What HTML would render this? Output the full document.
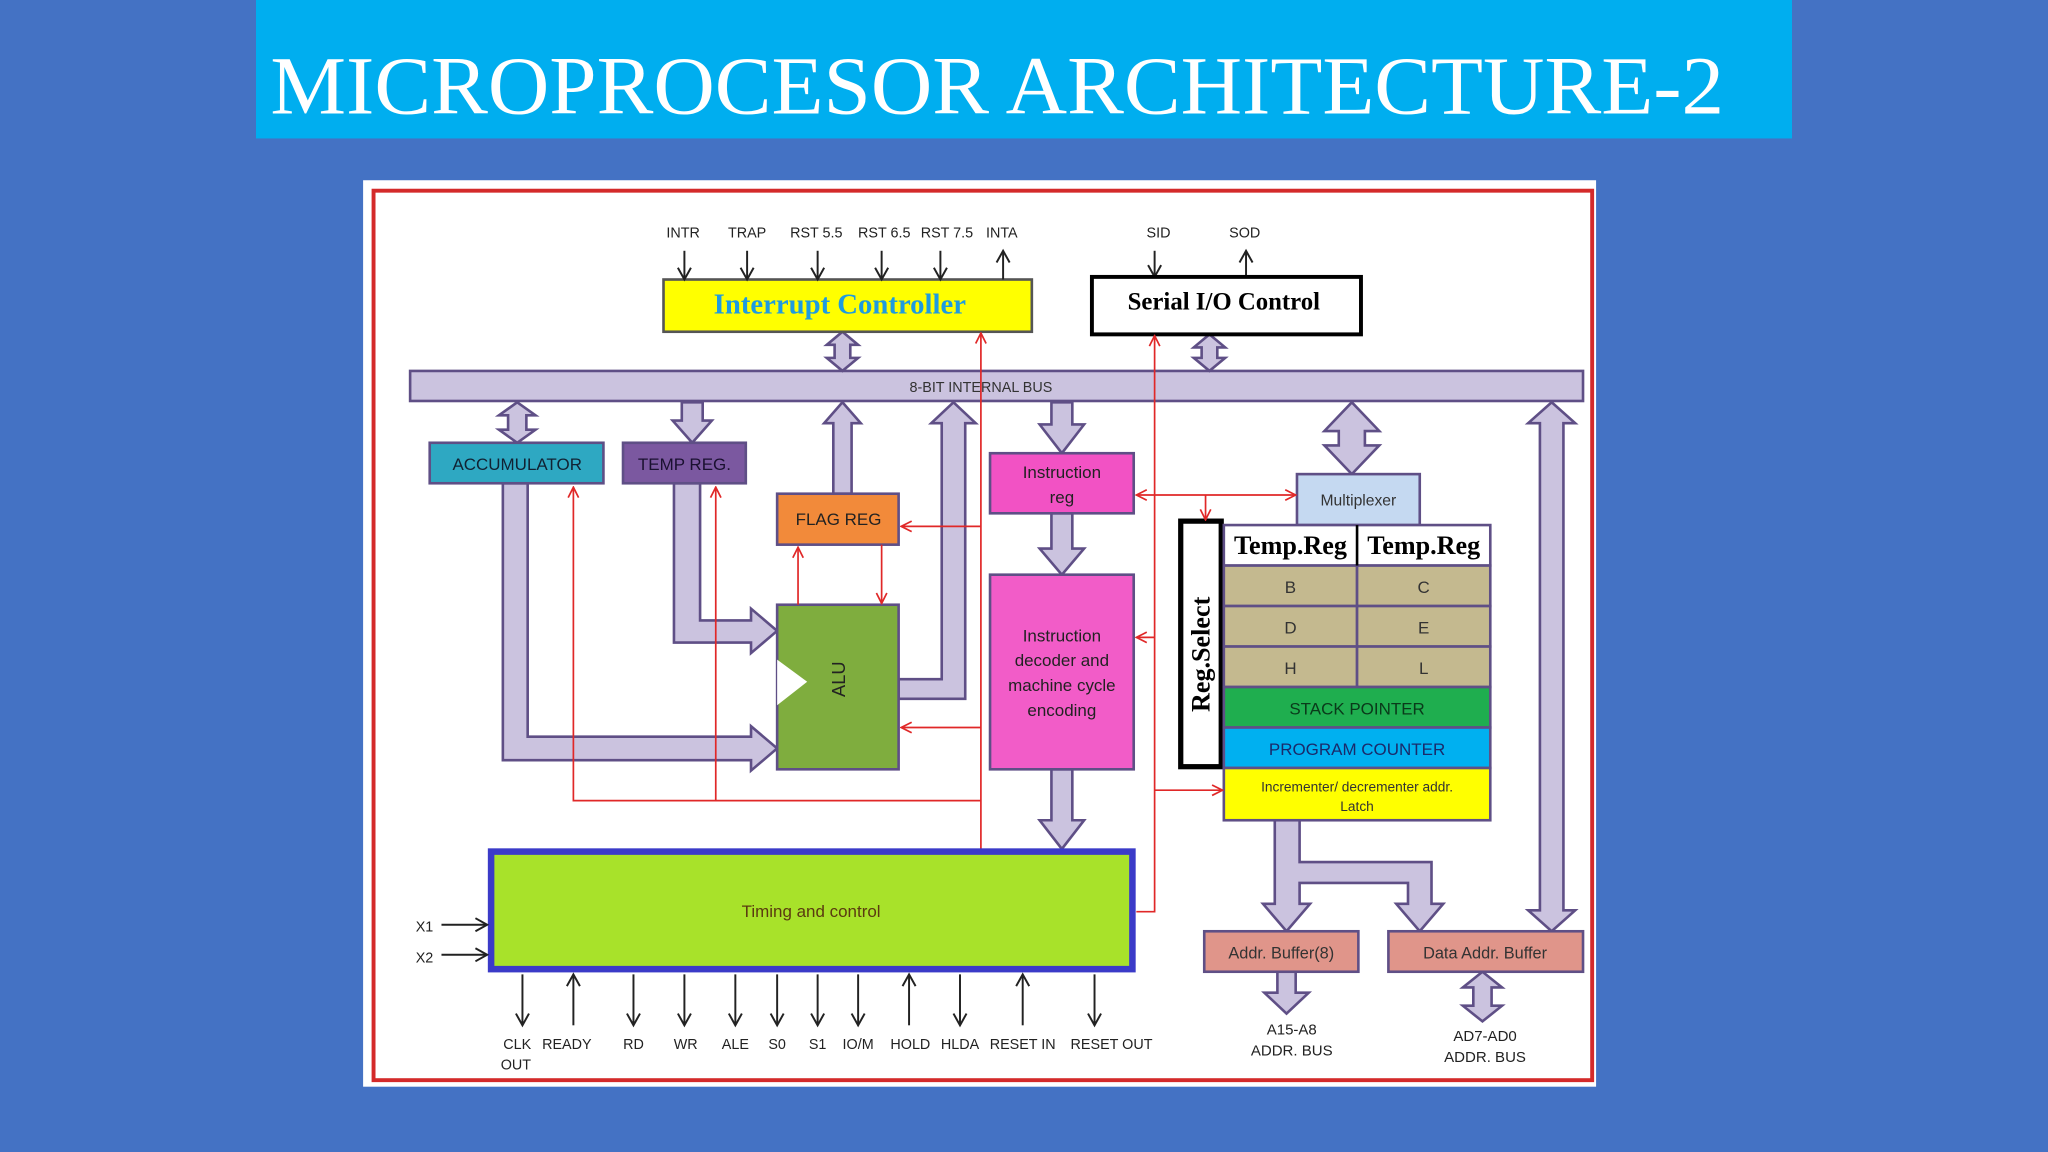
<!DOCTYPE html>
<html><head><meta charset="utf-8"><style>
html,body{margin:0;padding:0;background:#4472c4;}
svg{display:block;}
text{font-family:"Liberation Sans",sans-serif;}
</style></head><body>
<svg width="2048" height="1152" viewBox="0 0 1568 882" xmlns="http://www.w3.org/2000/svg">
<defs>
<marker id="ar" markerWidth="10" markerHeight="10" refX="9" refY="5" orient="auto" markerUnits="userSpaceOnUse"><path d="M1,1 L9,5 L1,9" fill="none" stroke="#e02828" stroke-width="1.3"/></marker>
<marker id="ab" markerWidth="12" markerHeight="12" refX="10" refY="6" orient="auto" markerUnits="userSpaceOnUse"><path d="M1,1 L10,6 L1,11" fill="none" stroke="#222" stroke-width="1.5"/></marker>
</defs>
<rect width="1568" height="882" fill="#4472c4"/>
<rect x="196" y="0" width="1176" height="106" fill="#00aeef"/>
<text x="207" y="87" font-size="63" fill="#fff" textLength="1113" lengthAdjust="spacingAndGlyphs" style="font-family:'Liberation Serif',serif">MICROPROCESOR ARCHITECTURE-2</text>

<rect x="278" y="138" width="944" height="694" fill="#fff"/>
<rect x="286" y="146" width="933" height="681" fill="none" stroke="#d42a2a" stroke-width="3"/>

<g fill="#cbc3df" stroke="#5f4f86" stroke-width="2" stroke-linejoin="miter">
<rect x="314" y="284" width="898" height="23"/>
<path d="M645,254 L657,264 L651,264 L651,274 L657,274 L645,284 L633,274 L639,274 L639,264 L633,264 Z"/>
<path d="M926,256 L938,266 L932,266 L932,274 L938,274 L926,284 L914,274 L920,274 L920,266 L914,266 Z"/>
<path d="M396,308 L410,318 L403,318 L403,329 L410,329 L396,339 L382,329 L389,329 L389,318 L382,318 Z"/>
<path d="M522,308 L538,308 L538,322 L545,322 L530,339 L515,322 L522,322 Z"/>
<path d="M638,378 L638,324 L631,324 L645,308 L659,324 L652,324 L652,378 Z"/>
<path d="M688,520 L721,520 L721,324 L713,324 L730,308 L747,324 L739,324 L739,535 L688,535 Z"/>
<path d="M805,308 L821,308 L821,325 L830,325 L813,347 L796,325 L805,325 Z"/>
<path d="M805,393 L821,393 L821,420 L830,420 L813,440 L796,420 L805,420 Z"/>
<path d="M805,589 L821,589 L821,628 L830,628 L813,650 L796,628 L805,628 Z"/>
<path d="M385,370 L404,370 L404,564 L575,564 L575,556 L595,573 L575,590 L575,582 L385,582 Z"/>
<path d="M516,370 L536,370 L536,475 L575,475 L575,466 L595,483 L575,500 L575,492 L516,492 Z"/>
<path d="M1035,308 L1056,330 L1045,330 L1045,341 L1056,341 L1035,363 L1014,341 L1025,341 L1025,330 L1014,330 Z"/>
<path d="M1188,308 L1206,324 L1197,324 L1197,697 L1206,697 L1188,713 L1170,697 L1179,697 L1179,324 L1170,324 Z"/>
<path d="M976,628 L995,628 L995,660 L1096,660 L1096,692 L1105,692 L1087,713 L1069,692 L1078,692 L1078,676 L995,676 L995,692 L1003,692 L985,713 L967,692 L976,692 Z"/>
<path d="M978,744 L992,744 L992,760 L1002,760 L985,776 L968,760 L978,760 Z"/>
<path d="M1135,744 L1150,756 L1142,756 L1142,770 L1150,770 L1135,782 L1120,770 L1128,770 L1128,756 L1120,756 Z"/>
</g>
<text x="751" y="300" font-size="11" text-anchor="middle" fill="#333">8-BIT INTERNAL BUS</text>

<rect x="508" y="214" width="282" height="40" fill="#ffff00" stroke="#555" stroke-width="2"/>
<text x="643" y="240" text-anchor="middle" font-size="22" font-weight="bold" fill="#1e9be0" style="font-family:'Liberation Serif',serif">Interrupt Controller</text>
<g font-size="11" fill="#222" text-anchor="middle">
<text x="523" y="182">INTR</text><text x="572" y="182">TRAP</text><text x="625" y="182">RST 5.5</text><text x="677" y="182">RST 6.5</text><text x="725" y="182">RST 7.5</text><text x="767" y="182">INTA</text>
<text x="887" y="182">SID</text><text x="953" y="182">SOD</text>
</g>
<g stroke="#222" stroke-width="1.5">
<line x1="524" y1="192" x2="524" y2="214" marker-end="url(#ab)"/>
<line x1="572" y1="192" x2="572" y2="214" marker-end="url(#ab)"/>
<line x1="626" y1="192" x2="626" y2="214" marker-end="url(#ab)"/>
<line x1="675" y1="192" x2="675" y2="214" marker-end="url(#ab)"/>
<line x1="720" y1="192" x2="720" y2="214" marker-end="url(#ab)"/>
<line x1="768" y1="214" x2="768" y2="192" marker-end="url(#ab)"/>
<line x1="884" y1="192" x2="884" y2="212" marker-end="url(#ab)"/>
<line x1="954" y1="212" x2="954" y2="192" marker-end="url(#ab)"/>
</g>
<rect x="836" y="212" width="206" height="44" fill="#fff" stroke="#000" stroke-width="3"/>
<text x="937" y="237" text-anchor="middle" font-size="19" font-weight="bold" fill="#000" style="font-family:'Liberation Serif',serif">Serial I/O Control</text>

<rect x="329" y="339" width="133" height="31" fill="#2ea8c2" stroke="#5f4f86" stroke-width="2"/>
<text x="396" y="360" text-anchor="middle" font-size="13" fill="#123">ACCUMULATOR</text>
<rect x="477" y="339" width="94" height="31" fill="#7b58a0" stroke="#5f4f86" stroke-width="2"/>
<text x="524" y="360" text-anchor="middle" font-size="13" fill="#1a1030">TEMP REG.</text>
<rect x="595" y="378" width="93" height="39" fill="#f28a3a" stroke="#5f4f86" stroke-width="2"/>
<text x="642" y="402" text-anchor="middle" font-size="13" fill="#222">FLAG REG</text>
<rect x="595" y="463" width="93" height="126" fill="#7fad3e" stroke="#5f4f86" stroke-width="2"/>
<path d="M595,505 L618,522 L595,540 Z" fill="#fff"/>
<text x="0" y="0" transform="translate(647,520) rotate(-90)" text-anchor="middle" font-size="14" fill="#222">ALU</text>

<rect x="758" y="347" width="110" height="46" fill="#f252c4" stroke="#5f4f86" stroke-width="2"/>
<text x="813" y="366" text-anchor="middle" font-size="13" fill="#222">Instruction</text>
<text x="813" y="385" text-anchor="middle" font-size="13" fill="#222">reg</text>
<rect x="758" y="440" width="110" height="149" fill="#f25cc8" stroke="#5f4f86" stroke-width="2"/>
<g font-size="13" fill="#222" text-anchor="middle">
<text x="813" y="491">Instruction</text><text x="813" y="510">decoder and</text><text x="813" y="529">machine cycle</text><text x="813" y="548">encoding</text>
</g>

<rect x="993" y="363" width="94" height="39" fill="#c5d9f1" stroke="#5f4f86" stroke-width="2"/>
<text x="1040" y="387" text-anchor="middle" font-size="12" fill="#333">Multiplexer</text>

<rect x="904" y="399" width="31" height="188" fill="#fff" stroke="#000" stroke-width="4"/>
<text transform="translate(926,501) rotate(-90)" text-anchor="middle" font-size="20" font-weight="bold" fill="#000" style="font-family:'Liberation Serif',serif">Reg.Select</text>

<g stroke="#5f4f86" stroke-width="2">
<rect x="937" y="402" width="204" height="31" fill="#fff"/>
<rect x="937" y="433" width="102" height="31" fill="#c4b98f"/><rect x="1039" y="433" width="102" height="31" fill="#c4b98f"/>
<rect x="937" y="464" width="102" height="31" fill="#c4b98f"/><rect x="1039" y="464" width="102" height="31" fill="#c4b98f"/>
<rect x="937" y="495" width="102" height="31" fill="#c4b98f"/><rect x="1039" y="495" width="102" height="31" fill="#c4b98f"/>
<rect x="937" y="526" width="204" height="31" fill="#1fae4f"/>
<rect x="937" y="557" width="204" height="31" fill="#00b0f0"/>
<rect x="937" y="588" width="204" height="40" fill="#ffff00"/>
</g>
<line x1="1039" y1="402" x2="1039" y2="433" stroke="#000" stroke-width="2"/>
<g font-size="20" font-weight="bold" fill="#000" text-anchor="middle">
<text x="988" y="424" style="font-family:'Liberation Serif',serif">Temp.Reg</text><text x="1090" y="424" style="font-family:'Liberation Serif',serif">Temp.Reg</text>
</g>
<g font-size="13" fill="#333" text-anchor="middle">
<text x="988" y="454">B</text><text x="1090" y="454">C</text>
<text x="988" y="485">D</text><text x="1090" y="485">E</text>
<text x="988" y="516">H</text><text x="1090" y="516">L</text>
<text x="1039" y="547" fill="#0a3a1a">STACK POINTER</text>
<text x="1039" y="578" fill="#1a2a6a">PROGRAM COUNTER</text>
<text x="1039" y="606" font-size="10.5" fill="#333">Incrementer/ decrementer addr.</text>
<text x="1039" y="621" font-size="10.5" fill="#333">Latch</text>
</g>

<rect x="922" y="713" width="118" height="31" fill="#e0958a" stroke="#5f4f86" stroke-width="2"/>
<text x="981" y="734" text-anchor="middle" font-size="12.5" fill="#333">Addr. Buffer(8)</text>
<rect x="1063" y="713" width="149" height="31" fill="#e0958a" stroke="#5f4f86" stroke-width="2"/>
<text x="1137" y="734" text-anchor="middle" font-size="12.5" fill="#333">Data Addr. Buffer</text>
<g font-size="11.5" fill="#222" text-anchor="middle">
<text x="989" y="792">A15-A8</text><text x="989" y="808">ADDR. BUS</text>
<text x="1137" y="797">AD7-AD0</text><text x="1137" y="813">ADDR. BUS</text>
</g>

<g stroke="#e02828" stroke-width="1.3" fill="none">
<line x1="751" y1="650" x2="751" y2="255" marker-end="url(#ar)"/>
<polyline points="751,613 439,613 439,373" marker-end="url(#ar)"/>
<line x1="548" y1="613" x2="548" y2="373" marker-end="url(#ar)"/>
<line x1="751" y1="403" x2="690" y2="403" marker-end="url(#ar)"/>
<line x1="611" y1="463" x2="611" y2="419" marker-end="url(#ar)"/>
<line x1="675" y1="417" x2="675" y2="462" marker-end="url(#ar)"/>
<line x1="751" y1="557" x2="690" y2="557" marker-end="url(#ar)"/>
<line x1="884" y1="379" x2="870" y2="379" marker-end="url(#ar)"/>
<line x1="884" y1="379" x2="992" y2="379" marker-end="url(#ar)"/>
<line x1="923" y1="379" x2="923" y2="398" marker-end="url(#ar)"/>
<polyline points="870,698 884,698 884,257" marker-end="url(#ar)"/>
<line x1="884" y1="488" x2="870" y2="488" marker-end="url(#ar)"/>
<line x1="884" y1="605" x2="936" y2="605" marker-end="url(#ar)"/>
</g>

<rect x="376" y="652" width="491" height="90" fill="#a8e22a" stroke="#3b3bc8" stroke-width="5"/>
<text x="621" y="702" text-anchor="middle" font-size="13" fill="#5a3a10">Timing and control</text>
<g font-size="11" fill="#222" text-anchor="middle">
<text x="325" y="713">X1</text><text x="325" y="737">X2</text>
<text x="396" y="803">CLK</text><text x="395" y="819">OUT</text>
<text x="434" y="803">READY</text><text x="485" y="803">RD</text><text x="525" y="803">WR</text><text x="563" y="803">ALE</text>
<text x="595" y="803">S0</text><text x="626" y="803">S1</text><text x="657" y="803">IO/M</text><text x="697" y="803">HOLD</text>
<text x="735" y="803">HLDA</text><text x="783" y="803">RESET IN</text><text x="851" y="803">RESET OUT</text>
</g>
<g stroke="#222" stroke-width="1.5">
<line x1="338" y1="708" x2="373" y2="708" marker-end="url(#ab)"/>
<line x1="338" y1="731" x2="373" y2="731" marker-end="url(#ab)"/>
<line x1="400" y1="746" x2="400" y2="785" marker-end="url(#ab)"/>
<line x1="439" y1="785" x2="439" y2="746" marker-end="url(#ab)"/>
<line x1="485" y1="746" x2="485" y2="785" marker-end="url(#ab)"/>
<line x1="524" y1="746" x2="524" y2="785" marker-end="url(#ab)"/>
<line x1="563" y1="746" x2="563" y2="785" marker-end="url(#ab)"/>
<line x1="595" y1="746" x2="595" y2="785" marker-end="url(#ab)"/>
<line x1="626" y1="746" x2="626" y2="785" marker-end="url(#ab)"/>
<line x1="657" y1="746" x2="657" y2="785" marker-end="url(#ab)"/>
<line x1="696" y1="785" x2="696" y2="746" marker-end="url(#ab)"/>
<line x1="735" y1="746" x2="735" y2="785" marker-end="url(#ab)"/>
<line x1="783" y1="785" x2="783" y2="746" marker-end="url(#ab)"/>
<line x1="838" y1="746" x2="838" y2="785" marker-end="url(#ab)"/>
</g>
</svg>
</body></html>
